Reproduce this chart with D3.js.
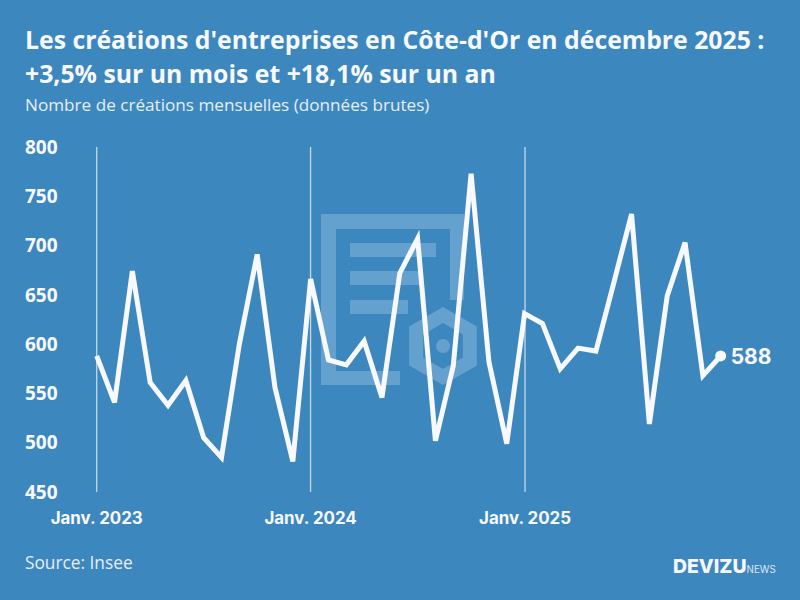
<!DOCTYPE html>
<html><head><meta charset="utf-8">
<script src="https://cdn.jsdelivr.net/npm/d3@7"></script>
<style>html,body{margin:0;padding:0;background:#3d87bf}svg{display:block}</style>
</head><body><svg id="c" width="800" height="600"></svg>
<script>
const months = d3.range(36).map(i => new Date(2023, i, 1));
const values = [588,541,674,561,538,563,505,485,600,691,556,481,
                666,584,579,603,546,672,707,502,578,773,582,499,
                631,621,575,596,593,662,732,519,649,703,568,588];
const yTicks = [450,500,550,600,650,700,750,800];
const xTicks = [new Date(2023,0,1), new Date(2024,0,1), new Date(2025,0,1)];
const xLabels = ["Janv. 2023","Janv. 2024","Janv. 2025"];
const titleLines = ["Les créations d'entreprises en Côte-d'Or en décembre 2025 :","+3,5% sur un mois et +18,1% sur un an"];
const subtitle = "Nombre de créations mensuelles (données brutes)";
const source = "Source: Insee";

const svg = d3.select("#c");
const white = "#f8f9ff";
svg.append("rect").attr("width",800).attr("height",600).attr("fill","#3d87bf");

const xi = d3.scaleLinear().domain([0,35]).range([96.7,720.7]);
const x = d3.scaleTime().domain([months[0], months[35]]).range([96.7,720.7]);
const y = d3.scaleLinear().domain([450,800]).range([492,147]);

// watermark
const wm = svg.append("g").attr("fill","#64a1cf");
wm.append("path").attr("fill-rule","evenodd")
  .attr("d","M321 214H464V300H450V229H336V371H400V385H321Z");
[[350,243,86],[350,271,72],[350,300,58]].forEach(b=>wm.append("rect").attr("x",b[0]).attr("y",b[1]).attr("width",b[2]).attr("height",14));
const hex = d3.range(6).map(i=>{const a=Math.PI/3*i-Math.PI/2;return [443+31*Math.cos(a),346+31*Math.sin(a)]});
wm.append("path").attr("d",d3.line()(hex)+"Z").attr("fill","none").attr("stroke","#64a1cf").attr("stroke-width",14);
wm.append("circle").attr("cx",443).attr("cy",346).attr("r",7);

// text
svg.selectAll(".t").data(titleLines).join("text").attr("x",25).attr("y",(d,i)=>49+i*34)
  .attr("font-family","Open Sans").attr("font-weight",700).attr("font-size",24.8).attr("fill",white).text(d=>d);
svg.append("text").attr("x",25).attr("y",111).attr("font-family","Open Sans").attr("font-size",17.15).attr("fill","#e6eef7").text(subtitle);

// axes
const ax = d3.axisBottom(x).tickValues(xTicks).tickSize(0).offset(0).tickFormat((d,i)=>xLabels[i]);
const gx = svg.append("g").attr("transform","translate(0,492)").call(ax);
gx.select(".domain").remove();
gx.selectAll("text").attr("y",32).attr("dy",0).attr("font-family","Inter").attr("font-weight",700).attr("font-size",16.9).attr("fill",white);
gx.selectAll(".tick line").attr("y1",0).attr("y2",-345).attr("stroke","#c3d9ea").attr("stroke-width",1.3);

const ay = d3.axisLeft(y).tickValues(yTicks).tickSize(0).offset(0).tickFormat(d3.format("d"));
const gy = svg.append("g").attr("transform","translate(25,0)").call(ay);
gy.select(".domain").remove();
gy.selectAll("text").attr("x",0).attr("dy","0.35em").attr("text-anchor","start").attr("font-family","Open Sans").attr("font-weight",700).attr("font-size",19).attr("fill",white);

// line
svg.append("path").datum(values)
  .attr("d",d3.line().x((d,i)=>xi(i)).y(d=>y(d)))
  .attr("fill","none").attr("stroke",white).attr("stroke-width",5).attr("stroke-linejoin","miter").attr("stroke-miterlimit",4);
svg.append("circle").attr("cx",xi(35)).attr("cy",y(values[35])).attr("r",5.5).attr("fill",white);
svg.append("text").attr("x",xi(35)+10).attr("y",y(values[35])+8).attr("font-family","Inter").attr("font-weight",700).attr("font-size",21).attr("fill",white).text(values[35]);

// footer
svg.append("text").attr("x",25).attr("y",569).attr("font-family","Open Sans").attr("font-size",17.3).attr("fill","#e6eef7").text(source);
svg.append("text").attr("x",673).attr("y",573).attr("font-family","Inter").attr("font-weight",800).attr("font-size",19.4).attr("fill",white).text("DEVIZU");
svg.append("text").attr("x",746.5).attr("y",573).attr("font-family","Inter").attr("font-size",9.8).attr("fill","#dce8f3").text("NEWS");
</script></body></html>
